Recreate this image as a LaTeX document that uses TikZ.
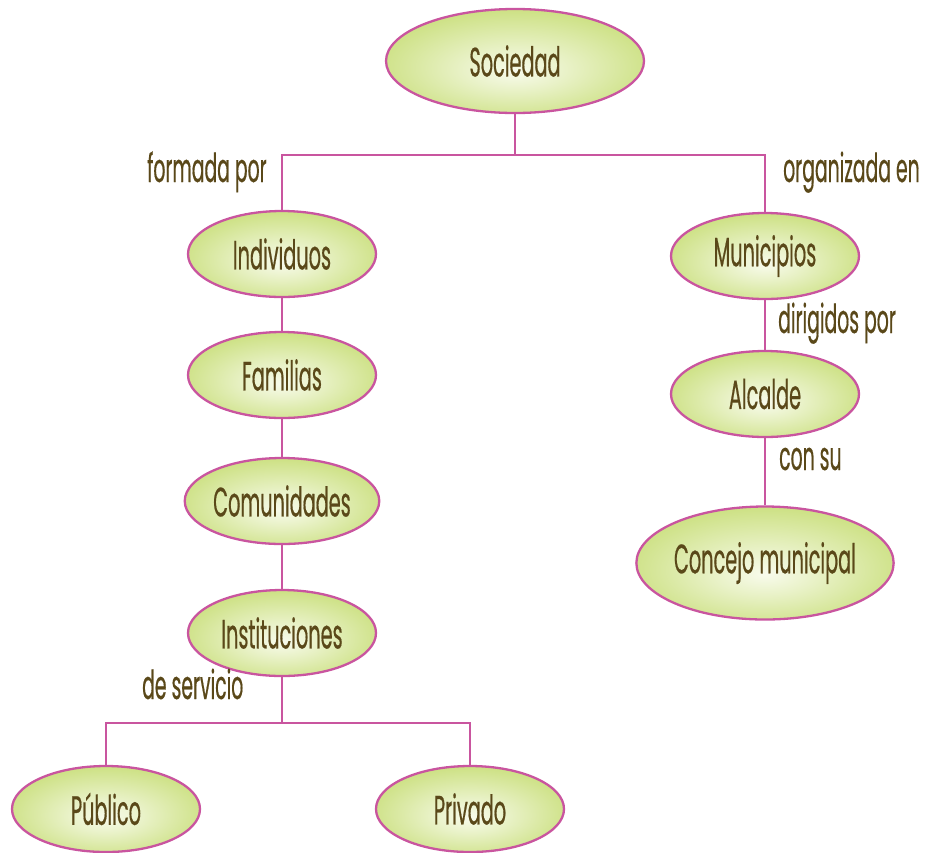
\documentclass[tikz,border=0pt]{standalone}
\usepackage{fontspec}
\setsansfont[FakeStretch=0.47,FakeBold=0.4]{Poppins}
\usepackage{xcolor}
\usetikzlibrary{calc,shapes.geometric}

\definecolor{linkpink}{HTML}{C9559F}
\definecolor{bubbleout}{HTML}{BBD659}
\definecolor{bubblein}{HTML}{F8FBEC}
\definecolor{textbrown}{HTML}{5A4819}
\pgfdeclareradialshading{bubble}{\pgfpoint{0bp}{-5bp}}{color(0bp)=(bubblein); color(10bp)=(bubblein!75!bubbleout); color(38bp)=(bubbleout); color(50bp)=(bubbleout)}

\begin{document}
\begin{tikzpicture}[x=1pt, y=-1pt,
  bubble/.style={ellipse, draw=linkpink, line width=2.3pt, shade, shading=bubble,
    minimum width=188pt, minimum height=86pt, inner sep=0pt,
    font=\sffamily\fontsize{41}{41}\selectfont, text=textbrown},
  link/.style={draw=linkpink, line width=2.3pt},
  tag/.style={anchor=base west, inner sep=0pt,
    font=\sffamily\fontsize{40}{40}\selectfont, text=textbrown}]
  \useasboundingbox (0,0) rectangle (925,852);

  % ---------- ellipses ----------
  \node[bubble, minimum width=258pt, minimum height=104pt] (soc) at (515,61) {Sociedad};
  \node[bubble] (ind) at (282,254) {Individuos};
  \node[bubble] (fam) at (282,375) {Familias};
  \node[bubble] (com) at (282,501) {Comunidades};
  \node[bubble] (ins) at (282,633) {Instituciones};
  \node[bubble] (pub) at (106,809) {Público};
  \node[bubble] (pri) at (470,809) {Privado};
  \node[bubble] (mun) at (765,256) {Municipios};
  \node[bubble] (alc) at (765,394) {Alcalde};
  \node[bubble, minimum width=249pt, minimum height=113pt] (con) at (765,563) {Concejo municipal};

  % ---------- connectors ----------
  \coordinate (topbar) at (515,155);
  \coordinate (lowbar) at (282,723);
  \draw[link] (soc.south) -- (topbar);
  \draw[link] (ind.north) |- (topbar) -| (mun.north);
  \draw[link] (ind) -- (fam);
  \draw[link] (fam) -- (com);
  \draw[link] (com) -- (ins);
  \draw[link] (ins.south) -- (lowbar);
  \draw[link] (pub.north) |- (lowbar) -| (pri.north);
  \draw[link] (mun) -- (alc);
  \draw[link] (alc) -- (con);

  % ---------- labels ----------
  \node[tag] (formada) at (147,182) {formada por};
  \node[tag] (organizada) at (783,182) {organizada en};
  \node[tag] (dirigidos) at (778,333) {dirigidos por};
  \node[tag] (consu) at (779,470) {con su};
  \node[tag] (servicio) at (142,699) {de servicio};
\end{tikzpicture}
\end{document}
